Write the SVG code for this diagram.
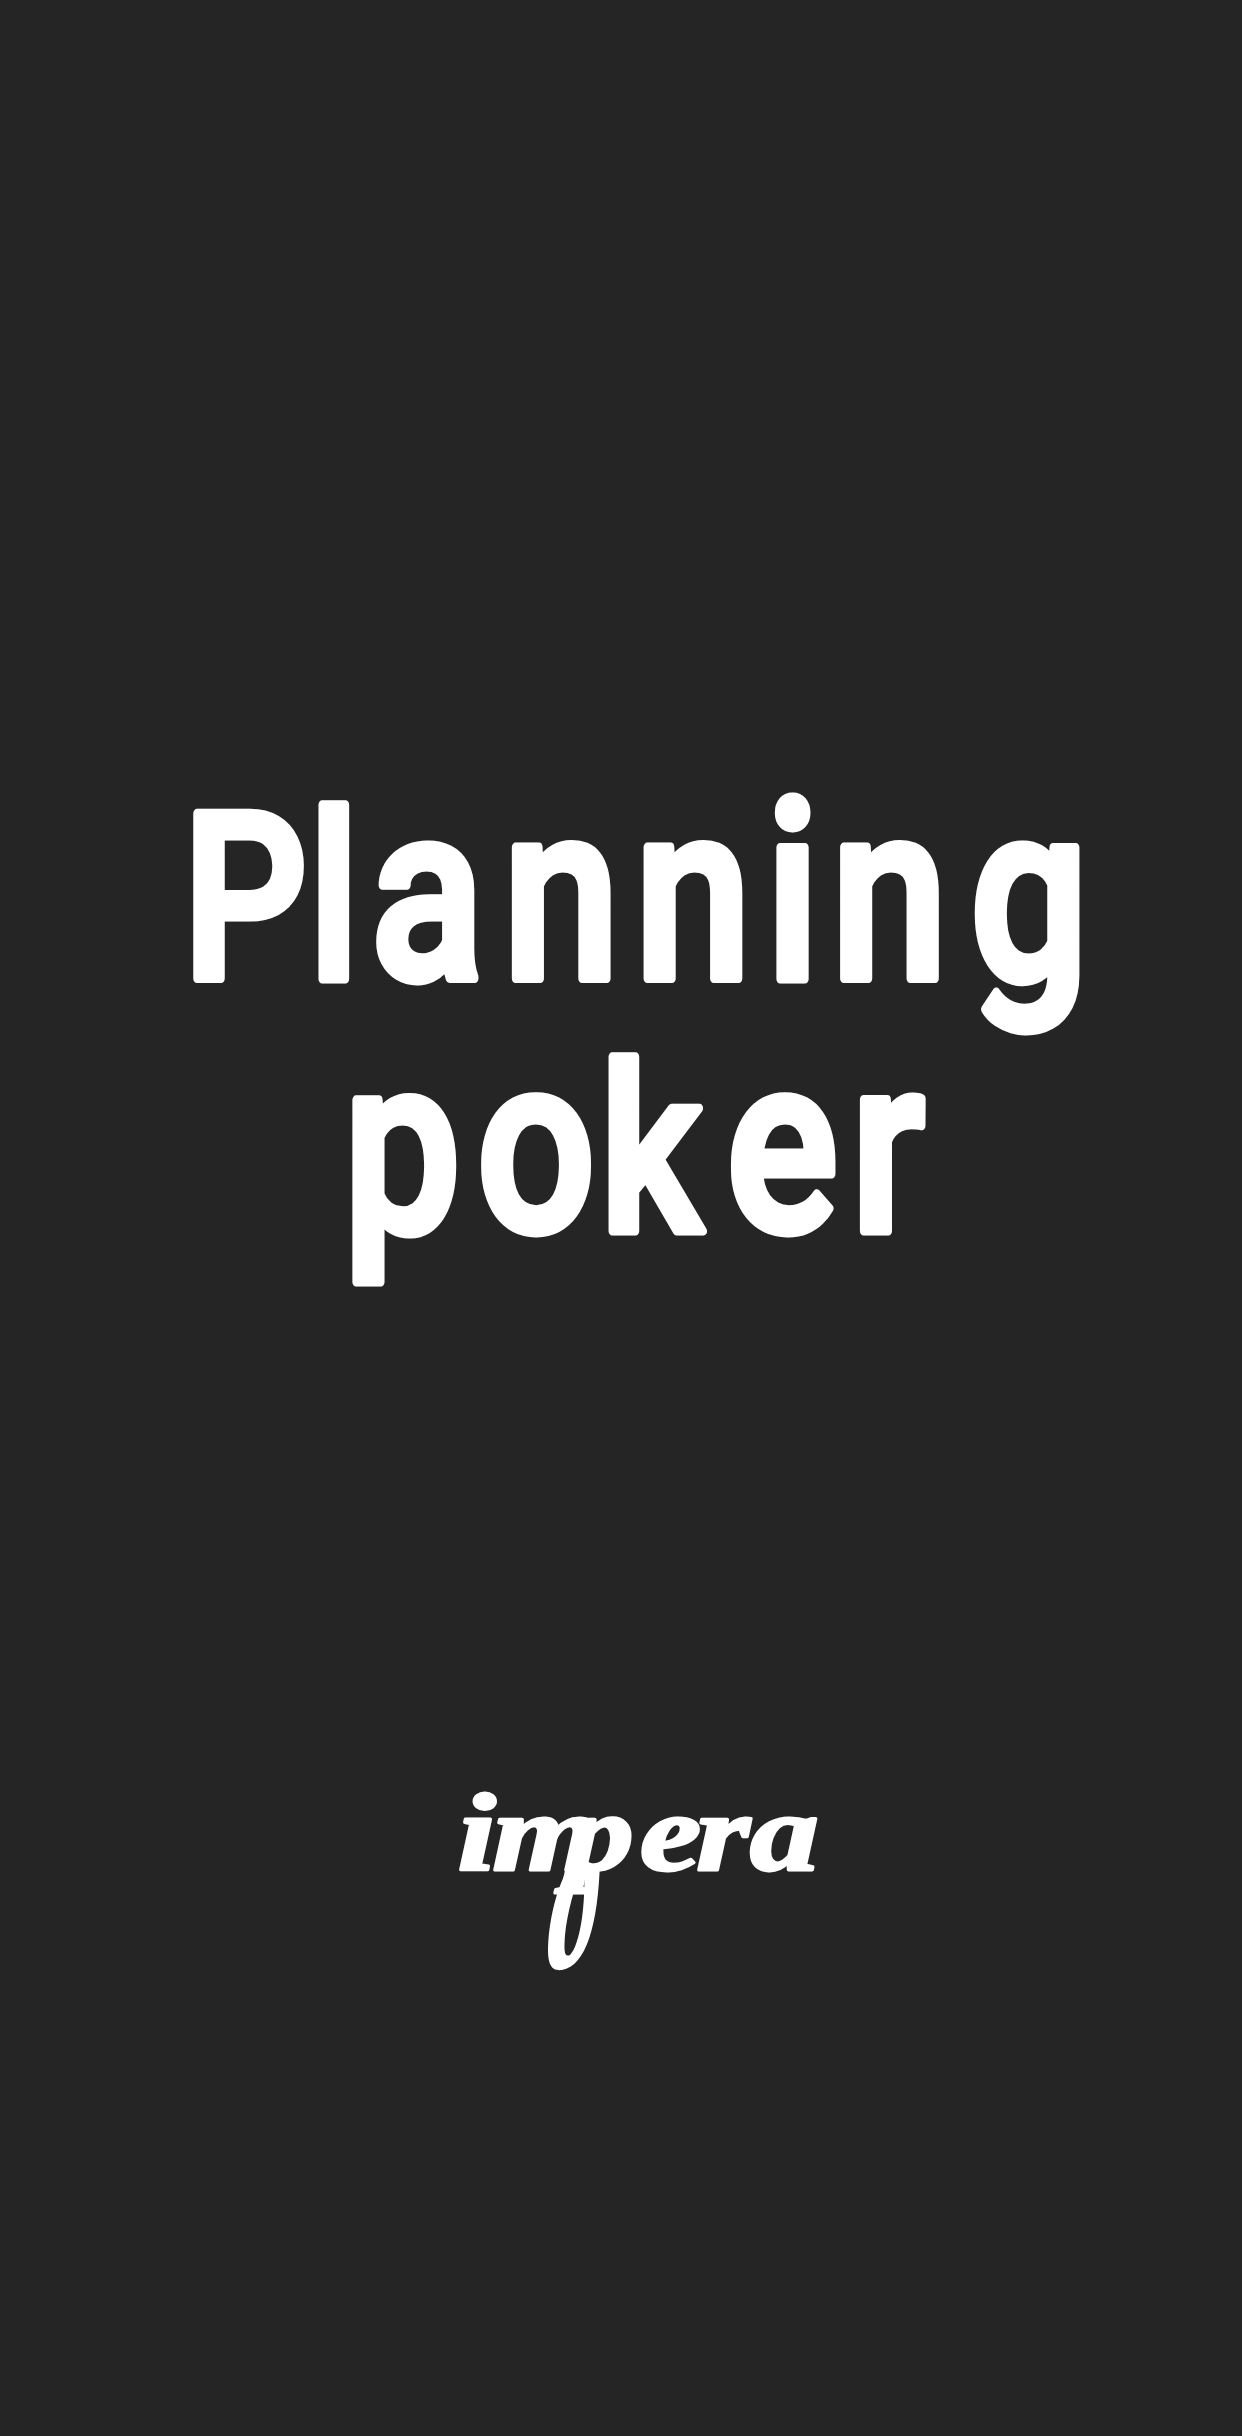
<svg xmlns="http://www.w3.org/2000/svg" width="1242" height="2436" viewBox="0 0 1242 2436">
<style>
.t{font-family:Roboto,"Liberation Sans",sans-serif;font-weight:500;font-size:248px;fill:#fff;stroke:#fff;stroke-width:9px;stroke-linejoin:round}
.s{font-size:232px}
.l{font-family:"Liberation Serif",serif;font-style:italic;font-weight:700;font-size:110px;fill:#fff;stroke:#fff;stroke-width:3px;stroke-linejoin:round}
</style>
<rect width="1242" height="2436" fill="#252525"/>
<g id="title">
<text class="t" transform="scale(0.84 1)" y="979" x="218 368 442 599 756 912 990 1155"><tspan class="s">Pl</tspan>anning</text>
<text class="t" transform="scale(0.84 1)" y="1231" x="409 568 715 865 1013">po<tspan class="s">k</tspan>er</text>
</g>
<g id="logo">
<text class="l" transform="scale(1.25 1)" y="1870" x="366 394 452 512 557 600">impera</text>
<path fill="#fff" fill-rule="evenodd" d="M572 1862C556 1885 548 1925 548 1950C548 1968 554 1971 562 1970C586 1966 598 1925 600 1862L584 1866C586 1905 580 1945 570 1955C564 1958 564 1950 565 1935C567 1915 574 1885 584 1866Z"/>
</g>
</svg>
